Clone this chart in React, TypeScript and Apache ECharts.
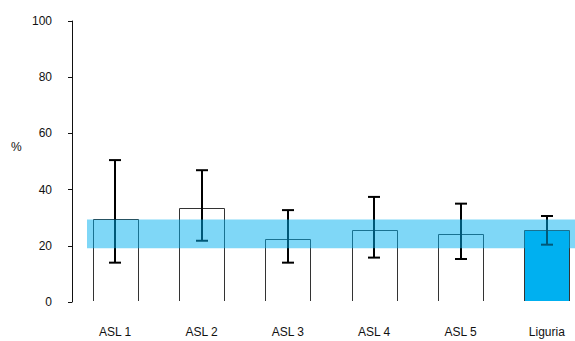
import React, { useEffect, useRef } from "react";
import * as echarts from "echarts";

const categories = ["ASL 1", "ASL 2", "ASL 3", "ASL 4", "ASL 5", "Liguria"];
const values = [29.7, 33.5, 22.5, 25.6, 24.3, 25.6];
const errLow = [14.0, 21.8, 14.0, 15.8, 15.3, 20.4];
const errHigh = [50.5, 46.9, 32.7, 37.4, 35.0, 30.6];
const bandRange = [19.1, 29.4];
const yTicks = { min: 0, max: 100, interval: 20 };
const yName = "%";

export default function App() {
  const ref = useRef<HTMLDivElement>(null);
  useEffect(() => {
    document.body.style.margin = "0";
    const chart = echarts.init(ref.current!, null, { renderer: "svg" });
    const font = "Liberation Sans, Arial, sans-serif";
    const lastIdx = categories.length - 1;
    chart.setOption({
      animation: false,
      grid: { left: 72, top: 21, bottom: 39, right: -15, outerBoundsMode: "none", containLabel: false },
      graphic: [
        {
          type: "text",
          left: 11,
          top: 141,
          style: { text: yName, font: `12px ${font}`, fill: "#111" },
        },
      ],
      xAxis: {
        type: "category",
        data: categories,
        axisLine: { show: false },
        axisTick: { show: false },
        axisLabel: { margin: 24, fontSize: 12, fontFamily: font, color: "#111" },
      },
      yAxis: {
        type: "value",
        min: yTicks.min,
        max: yTicks.max,
        interval: yTicks.interval,
        splitLine: { show: false },
        axisLine: { show: true, lineStyle: { color: "#111", width: 1 } },
        axisTick: { show: true, length: 4, lineStyle: { color: "#111" } },
        axisLabel: { margin: 20, fontSize: 12, fontFamily: font, color: "#111" },
      },
      series: [
        {
          type: "custom",
          z: 2,
          data: values.map((v, i) => [i, v]),
          encode: { x: 0, y: 1 },
          renderItem: (params: any, api: any) => {
            const i = api.value(0);
            const v = api.value(1);
            const top = api.coord([i, v]);
            const base = api.coord([i, 0]);
            const w = api.size([1, 0])[0] * 0.52;
            const l = Math.round(top[0] - w / 2) + 0.5;
            const r = Math.round(top[0] + w / 2) + 0.5;
            const t = Math.round(top[1]) + 0.5;
            const b = Math.round(base[1]) - 1;
            return {
              type: "group",
              children: [
                {
                  type: "rect",
                  shape: { x: l, y: t, width: r - l, height: b - t },
                  style: { fill: i === lastIdx ? "#00B0F0" : "#ffffff" },
                },
                {
                  type: "polyline",
                  shape: { points: [[l, b], [l, t], [r, t], [r, b]] },
                  style: { stroke: "#333", lineWidth: 1, fill: "none" },
                },
              ],
            };
          },
        },
        {
          type: "custom",
          z: 3,
          data: errLow.map((lo, i) => [i, lo, errHigh[i]]),
          encode: { x: 0, y: [1, 2] },
          renderItem: (params: any, api: any) => {
            const i = api.value(0);
            const lo = api.coord([i, api.value(1)]);
            const hi = api.coord([i, api.value(2)]);
            const x = Math.round(lo[0]);
            const cw = 6;
            const st = { stroke: "#000", lineWidth: 2 };
            return {
              type: "group",
              children: [
                { type: "line", shape: { x1: x, y1: hi[1], x2: x, y2: lo[1] }, style: st },
                { type: "line", shape: { x1: x - cw, y1: hi[1], x2: x + cw, y2: hi[1] }, style: st },
                { type: "line", shape: { x1: x - cw, y1: lo[1], x2: x + cw, y2: lo[1] }, style: st },
              ],
            };
          },
        },
        {
          type: "custom",
          z: 4,
          data: [[0, bandRange[0], bandRange[1]]],
          encode: { x: 0, y: [1, 2] },
          renderItem: (params: any, api: any) => {
            const lo = api.coord([0, api.value(1)]);
            const hi = api.coord([0, api.value(2)]);
            const bw = api.size([1, 0])[0];
            const x0 = Math.round(lo[0] - bw * 0.33);
            return {
              type: "rect",
              shape: { x: x0, y: hi[1], width: api.getWidth() - x0, height: lo[1] - hi[1] },
              style: { fill: "#00B0F0", opacity: 0.5 },
            };
          },
        },
      ],
    });
    return () => chart.dispose();
  }, []);
  return <div ref={ref} style={{ width: 575, height: 341 }} />;
}
